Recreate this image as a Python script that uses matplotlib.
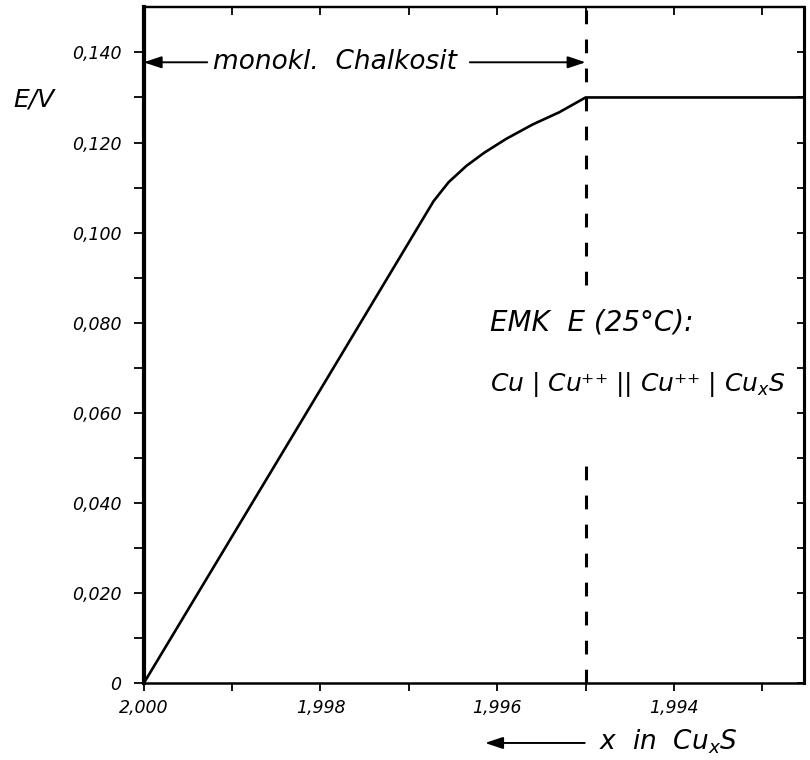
import matplotlib
matplotlib.use("Agg")
import matplotlib.pyplot as plt
from matplotlib.ticker import FixedLocator, FixedFormatter, NullFormatter

plt.rcParams['font.family'] = ['DejaVu Sans']
plt.rcParams['font.style'] = 'italic'
plt.rcParams['mathtext.fontset'] = 'custom'
plt.rcParams['mathtext.rm'] = 'DejaVu Sans:italic'
plt.rcParams['mathtext.it'] = 'DejaVu Sans:italic'
plt.rcParams['mathtext.default'] = 'it'

# ---- data ----
x_cu = [2.0000, 1.9990, 1.9980, 1.99672, 1.99655, 1.99635, 1.99615,
        1.99590, 1.99560, 1.99530, 1.99500, 1.99250]
emk = [0.0, 0.0326, 0.0652, 0.1070, 0.1112, 0.1148, 0.1177,
       0.1208, 0.1240, 0.1267, 0.1300, 0.1300]

phase_boundary_x = 1.995
dash_segments_ymax = [0.150, 0.050]
dash_segments_ymin = [0.0883, 0.0]

x_major = [2.000, 1.998, 1.996, 1.994]
x_major_labels = ["2,000", "1,998", "1,996", "1,994"]
x_all = [2.000, 1.999, 1.998, 1.997, 1.996, 1.995, 1.994, 1.993]

y_major = [0.0, 0.020, 0.040, 0.060, 0.080, 0.100, 0.120, 0.140]
y_major_labels = ["0", "0,020", "0,040", "0,060", "0,080", "0,100", "0,120", "0,140"]
y_all = [0.0, 0.010, 0.020, 0.030, 0.040, 0.050, 0.060, 0.070, 0.080,
         0.090, 0.100, 0.110, 0.120, 0.130, 0.140]

x_lim = (2.000, 1.99253)
y_lim = (0.0, 0.150)

phase_label = "monokl.  Chalkosit"
phase_arrow_y = 0.1378
phase_left_tail = 1.99928
phase_right_tail = 1.99631

cell_label = r"Cu | Cu⁺⁺ || Cu⁺⁺ | Cu$_x$S"

# ---- figure ----
fig = plt.figure(figsize=(8.1, 7.6), dpi=100)
ax = fig.add_axes([0.1773, 0.1007, 0.8153, 0.8897])

ax.plot(x_cu, emk, color='black', lw=1.9, solid_capstyle='round', zorder=3)
ax.vlines([phase_boundary_x] * 2, dash_segments_ymin, dash_segments_ymax,
          colors='black', linestyles=(0, (4.5, 5.0)), lw=2.2, zorder=3)

ax.set_xlim(*x_lim)
ax.set_ylim(*y_lim)

# spines
ax.spines['left'].set_linewidth(3.0)
ax.spines['right'].set_linewidth(2.2)
ax.spines['top'].set_linewidth(1.6)
ax.spines['bottom'].set_linewidth(1.8)

# bottom / left ticks (outward)
ax.xaxis.set_major_locator(FixedLocator(x_major))
ax.xaxis.set_major_formatter(FixedFormatter(x_major_labels))
ax.xaxis.set_minor_locator(FixedLocator(x_all))
ax.yaxis.set_major_locator(FixedLocator(y_major))
ax.yaxis.set_major_formatter(FixedFormatter(y_major_labels))
ax.yaxis.set_minor_locator(FixedLocator(y_all))
ax.tick_params(axis='x', which='both', direction='out', length=5.5, width=1.3,
               labelsize=12.5, pad=6)
ax.tick_params(axis='y', which='both', direction='out', length=7, width=1.3,
               labelsize=12.5, pad=9)

# top / right ticks (inward)
sec_x = ax.secondary_xaxis('top')
sec_x.set_xticks(x_all)
sec_x.xaxis.set_major_formatter(NullFormatter())
sec_x.tick_params(direction='in', length=6, width=1.3)
sec_x.spines['top'].set_linewidth(1.6)
sec_y = ax.secondary_yaxis('right')
sec_y.set_yticks(y_all)
sec_y.yaxis.set_major_formatter(NullFormatter())
sec_y.tick_params(direction='in', length=5, width=1.3)
sec_y.spines['right'].set_linewidth(2.2)

# axis labels
ax.text(-0.166, 0.864, "E/V", transform=ax.transAxes, fontsize=18,
        ha='center', va='center')
ax.text(0.690, -0.098, r"x  in  Cu$_x$S", transform=ax.transAxes, fontsize=19,
        ha='left', va='baseline')
ax.annotate("", xy=(0.517, -0.088), xytext=(0.668, -0.088),
            xycoords='axes fraction', textcoords='axes fraction',
            arrowprops=dict(arrowstyle='-|>,head_length=0.9,head_width=0.3',
                            mutation_scale=12, lw=1.4, color='black',
                            shrinkA=0, shrinkB=0), annotation_clip=False)

# phase annotation
ax.text(1.99921, phase_arrow_y, phase_label, fontsize=19, ha='left', va='center')
ax.annotate("", xy=(x_lim[0], phase_arrow_y), xytext=(phase_left_tail, phase_arrow_y),
            arrowprops=dict(arrowstyle='-|>,head_length=0.9,head_width=0.3',
                            mutation_scale=12, lw=1.4, color='black',
                            shrinkA=0, shrinkB=0))
ax.annotate("", xy=(phase_boundary_x, phase_arrow_y), xytext=(phase_right_tail, phase_arrow_y),
            arrowprops=dict(arrowstyle='-|>,head_length=0.9,head_width=0.3',
                            mutation_scale=12, lw=1.4, color='black',
                            shrinkA=0, shrinkB=0))

# EMK annotation
ax.text(1.99608, 0.0782, "EMK  E (25°C):", fontsize=20, ha='left', va='baseline')
ax.text(1.99608, 0.0649, cell_label, fontsize=18, ha='left', va='baseline')

fig.savefig("out.png", dpi=100)
